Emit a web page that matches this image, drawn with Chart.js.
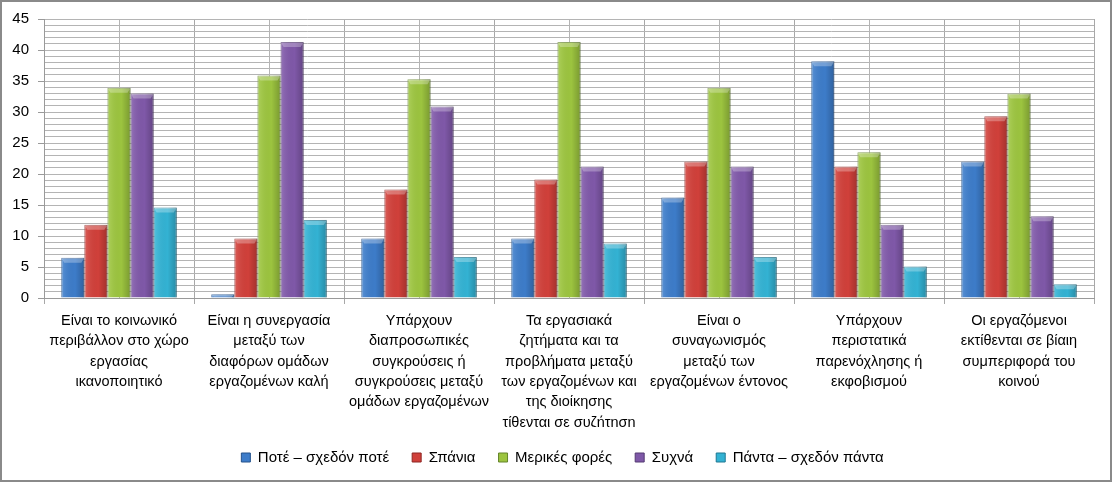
<!DOCTYPE html>
<html>
<head>
<meta charset="utf-8">
<script src="https://cdn.jsdelivr.net/npm/chart.js@4"></script>
<style>
  html, body { margin: 0; padding: 0; background: #ffffff; }
  #wrap { position: relative; width: 1115px; height: 484px; }
</style>
</head>
<body>
<div id="wrap"><canvas id="c" width="1115" height="484"></canvas></div>
<script>
const categories = [
  ["Είναι το κοινωνικό", "περιβάλλον στο χώρο", "εργασίας", "ικανοποιητικό"],
  ["Είναι η συνεργασία", "μεταξύ των", "διαφόρων ομάδων", "εργαζομένων καλή"],
  ["Υπάρχουν", "διαπροσωπικές", "συγκρούσεις ή", "συγκρούσεις μεταξύ", "ομάδων εργαζομένων"],
  ["Τα εργασιακά", "ζητήματα και τα", "προβλήματα μεταξύ", "των εργαζομένων και", "της διοίκησης", "τίθενται σε συζήτηση"],
  ["Είναι ο", "συναγωνισμός", "μεταξύ των", "εργαζομένων έντονος"],
  ["Υπάρχουν", "περιστατικά", "παρενόχλησης ή", "εκφοβισμού"],
  ["Οι εργαζόμενοι", "εκτίθενται σε βίαιη", "συμπεριφορά του", "κοινού"]
];
const seriesNames = ["Ποτέ – σχεδόν ποτέ", "Σπάνια", "Μερικές φορές", "Συχνά", "Πάντα – σχεδόν πάντα"];
const never     = [6.5, 0.6, 9.6, 9.6, 16.2, 38.2, 22.0];
const rarely    = [11.8, 9.6, 17.5, 19.1, 22.0, 21.2, 29.3];
const sometimes = [33.9, 35.9, 35.3, 41.3, 33.9, 23.5, 33.0];
const often     = [33.0, 41.3, 30.9, 21.2, 21.2, 11.8, 13.2];
const always    = [14.6, 12.6, 6.6, 8.8, 6.6, 5.1, 2.2];
const yTickValues = [0, 5, 10, 15, 20, 25, 30, 35, 40, 45];

const colors  = ["#3d7cc9", "#d0403a", "#9cc43f", "#7f58a8", "#33b2d3"];
const borders = ["#24528c", "#8e2522", "#65852a", "#553a73", "#1f7892"];

const FONT = "'Liberation Sans', Arial, sans-serif";

const bevelPlugin = {
  id: 'bevel',
  beforeDatasetsDraw(chart) {
    const ctx = chart.ctx, xs = chart.scales.x, area = chart.chartArea;
    ctx.save();
    ctx.strokeStyle = '#b4b4b4';
    ctx.lineWidth = 1;
    for (let i = 0; i < categories.length; i++) {
      const px = Math.round(xs.getPixelForValue(i)) + 0.5;
      ctx.beginPath();
      ctx.moveTo(px, area.top);
      ctx.lineTo(px, area.bottom);
      ctx.stroke();
    }
    ctx.restore();
  },
  afterDatasetsDraw(chart) {
    const ctx = chart.ctx;
    ctx.save();
    chart.data.datasets.forEach((ds, di) => {
      const meta = chart.getDatasetMeta(di);
      meta.data.forEach(bar => {
        const left = bar.x - bar.width / 2, right = bar.x + bar.width / 2;
        const top = bar.y, bottom = bar.base, h = bottom - top;
        if (h <= 0) return;
        const g = ctx.createLinearGradient(left, 0, right, 0);
        g.addColorStop(0, 'rgba(255,255,255,0.18)');
        g.addColorStop(0.15, 'rgba(255,255,255,0.08)');
        g.addColorStop(0.6, 'rgba(0,0,0,0.0)');
        g.addColorStop(1, 'rgba(0,0,0,0.22)');
        ctx.fillStyle = g;
        ctx.fillRect(left, top, right - left, h);
        const cap = Math.min(5, h);
        ctx.fillStyle = 'rgba(255,255,255,0.28)';
        ctx.beginPath();
        ctx.moveTo(left, top);
        ctx.lineTo(right, top);
        ctx.lineTo(right - 3, top + cap);
        ctx.lineTo(left + 3, top + cap);
        ctx.closePath();
        ctx.fill();
      });
    });
    ctx.restore();
  },
  afterDraw(chart) {
    const ctx = chart.ctx;
    ctx.save();
    ctx.strokeStyle = '#8a8a8a';
    ctx.lineWidth = 2;
    ctx.strokeRect(1, 1, 1110, 480);
    ctx.restore();
  }
};

const datasets = [never, rarely, sometimes, often, always].map((d, i) => ({
  label: seriesNames[i],
  data: d,
  backgroundColor: colors[i],
  borderColor: borders[i],
  borderWidth: 1,
  categoryPercentage: 0.77,
  barPercentage: 1.0
}));

new Chart(document.getElementById('c'), {
  type: 'bar',
  data: { labels: categories, datasets },
  options: {
    responsive: false,
    animation: false,
    layout: { padding: { left: 10, top: 19, right: 0, bottom: 9 } },
    plugins: {
      legend: {
        position: 'bottom',
        labels: {
          boxWidth: 9, boxHeight: 9, padding: 23,
          color: '#000', font: { family: FONT, size: 15 }
        }
      },
      tooltip: { enabled: false }
    },
    scales: {
      x: {
        grid: { offset: true, color: '#a8a8a8', tickLength: 6, tickColor: '#a8a8a8' },
        border: { color: '#9a9a9a' },
        ticks: {
          autoSkip: false, maxRotation: 0, minRotation: 0, padding: 7,
          color: '#000', font: { family: FONT, size: 14.5, lineHeight: 1.4 }
        },
        afterFit(scale) { scale.height = 129; }
      },
      y: {
        min: 0, max: 45,
        afterBuildTicks(scale) {
          const t = [];
          for (let v = 0; v <= 45; v++) t.push({ value: v });
          scale.ticks = t;
        },
        grid: {
          color: '#b4b4b4',
          tickLength: 6,
          tickColor: (c) => (yTickValues.includes(c.tick && c.tick.value) ? '#9a9a9a' : 'rgba(0,0,0,0)')
        },
        border: { color: '#9a9a9a' },
        ticks: {
          autoSkip: false, padding: 9,
          color: '#000', font: { family: FONT, size: 15 },
          callback: (v) => (yTickValues.includes(v) ? String(v) : '')
        },
        afterFit(scale) { scale.width = 34; }
      },
      spacer: {
        type: 'linear',
        position: 'right',
        display: true,
        grid: { display: false, drawTicks: false },
        border: { display: false },
        ticks: { display: false },
        afterFit(scale) { scale.width = 21; }
      }
    }
  },
  plugins: [bevelPlugin]
});
</script>
</body>
</html>
